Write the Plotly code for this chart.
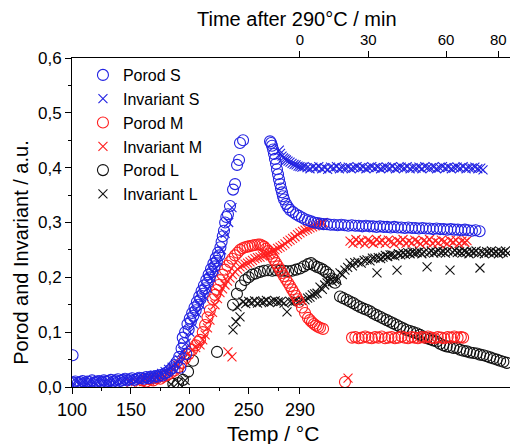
import plotly.graph_objects as go

# ---------------- data (x in bottom-axis units, y in a.u.) ----------------
porod_s = [
    (100.5, 0.058),
    (101, 0.008), (103, 0.010), (105, 0.007), (107, 0.009), (109, 0.011), (111, 0.008), (113, 0.010),
    (115, 0.009), (117, 0.012), (119, 0.008), (121, 0.010), (123, 0.011), (125, 0.009), (127, 0.012),
    (129, 0.010), (131, 0.011), (133, 0.013), (135, 0.010), (137, 0.012), (139, 0.014), (141, 0.011),
    (143, 0.013), (145, 0.015), (147, 0.012), (149, 0.014), (151, 0.016), (153, 0.013), (155, 0.015),
    (157, 0.017), (159, 0.016), (161, 0.015), (163, 0.018), (165, 0.016), (167, 0.019), (169, 0.017),
    (171, 0.020), (173, 0.019), (175, 0.022), (177, 0.021), (179, 0.025), (181, 0.027), (183, 0.031),
    (185, 0.034), (187, 0.040), (189, 0.046), (191, 0.055), (192, 0.035), (193, 0.070), (194, 0.090),
    (195, 0.080), (196, 0.100), (197, 0.060), (198, 0.115), (199, 0.105), (200, 0.125), (201, 0.120),
    (202, 0.135), (203, 0.130), (204, 0.145), (205, 0.140), (206, 0.155), (207, 0.150), (208, 0.165),
    (209, 0.160), (210, 0.175), (211, 0.170), (212, 0.185), (213, 0.180), (214, 0.195), (215, 0.190),
    (216, 0.205), (217, 0.200), (218, 0.215), (219, 0.210), (220, 0.225), (221, 0.220), (222, 0.235),
    (223, 0.230), (224, 0.245), (225, 0.240), (226, 0.255), (227, 0.265), (228, 0.275), (229, 0.285),
    (230, 0.300), (231, 0.310), (232.4, 0.315), (234.1, 0.330), (236.7, 0.360), (238.4, 0.370),
    (240.1, 0.405), (241.8, 0.414), (242.6, 0.445), (245.2, 0.450),
    (268.1, 0.448), (269.0, 0.445), (269.8, 0.440), (270.7, 0.433), (271.5, 0.425), (272.3, 0.416),
    (273.2, 0.407), (274.0, 0.397), (274.9, 0.388), (275.7, 0.379), (276.6, 0.370), (277.4, 0.362),
    (278.3, 0.355), (279.1, 0.348), (280.0, 0.342), (281.7, 0.334), (283.4, 0.328), (285.1, 0.323),
    (287.6, 0.319), (290.2, 0.315), (292.7, 0.312), (295.2, 0.309), (297.8, 0.306), (300.3, 0.304),
    (302.9, 0.302), (305.4, 0.300), (308.0, 0.299), (310.5, 0.298), (313.5, 0.297), (316.5, 0.297),
    (319.5, 0.296), (322.5, 0.296), (325.5, 0.295), (328.5, 0.296), (331.5, 0.295), (334.5, 0.294),
    (337.5, 0.295), (340.5, 0.294), (343.5, 0.294), (346.5, 0.293), (349.5, 0.294), (352.5, 0.293),
    (355.5, 0.293), (358.5, 0.292), (361.5, 0.293), (364.5, 0.292), (367.5, 0.292), (370.5, 0.291),
    (373.5, 0.292), (376.5, 0.291), (379.5, 0.291), (382.5, 0.290), (385.5, 0.291), (388.5, 0.290),
    (391.5, 0.290), (394.5, 0.289), (397.5, 0.290), (400.5, 0.289), (403.5, 0.289), (406.5, 0.288),
    (409.5, 0.289), (412.5, 0.288), (415.5, 0.288), (418.5, 0.287), (421.5, 0.288), (424.5, 0.287),
    (427.5, 0.287), (430.5, 0.286), (433.5, 0.287), (436.5, 0.286), (439.5, 0.285), (442.5, 0.286),
    (446.0, 0.284),
]

invariant_s = [
    (101, 0.006), (104, 0.009), (107, 0.007), (110, 0.010), (113, 0.008), (116, 0.011), (119, 0.009),
    (122, 0.010), (125, 0.012), (128, 0.009), (131, 0.011), (134, 0.012), (137, 0.010), (140, 0.013),
    (143, 0.012), (146, 0.014), (149, 0.013), (152, 0.015), (155, 0.014), (158, 0.016), (161, 0.017),
    (164, 0.019), (167, 0.018), (170, 0.021), (173, 0.022), (176, 0.025), (179, 0.028), (182, 0.032),
    (185, 0.036), (188, 0.042), (191, 0.050), (194, 0.065), (197, 0.080), (200, 0.100), (203, 0.115),
    (206, 0.135), (209, 0.150), (212, 0.165), (215, 0.180), (218, 0.200), (221, 0.215), (224, 0.230),
    (227, 0.250), (230, 0.280), (233, 0.300), (235.8, 0.327),
    (276.0, 0.432), (277.0, 0.426), (278.3, 0.421), (279.5, 0.418), (280.8, 0.416), (282.0, 0.414),
    (283.4, 0.412), (285.1, 0.410), (286.8, 0.408), (288.5, 0.406), (290.2, 0.405), (291.9, 0.403),
    (293.5, 0.402), (295.2, 0.401), (297.0, 0.402), (299.5, 0.400), (302.0, 0.398), (304.5, 0.401),
    (307.0, 0.399), (309.5, 0.402), (312.0, 0.398), (314.5, 0.400), (317.0, 0.397), (319.5, 0.401),
    (322.0, 0.399), (324.5, 0.402), (327.0, 0.398), (329.5, 0.400), (332.0, 0.399), (334.5, 0.401),
    (337.0, 0.398), (339.5, 0.400), (342.0, 0.402), (344.5, 0.399), (347.0, 0.401), (349.5, 0.398),
    (352.0, 0.400), (354.5, 0.402), (357.0, 0.399), (359.5, 0.401), (362.0, 0.398), (364.5, 0.400),
    (367.0, 0.401), (369.5, 0.399), (372.0, 0.402), (374.5, 0.398), (377.0, 0.400), (379.5, 0.401),
    (382.0, 0.399), (384.5, 0.402), (387.0, 0.398), (389.5, 0.400), (392.0, 0.399), (394.5, 0.401),
    (397.0, 0.398), (399.5, 0.402), (402.0, 0.400), (404.5, 0.399), (407.0, 0.401), (409.5, 0.398),
    (412.0, 0.400), (414.5, 0.402), (417.0, 0.399), (419.5, 0.401), (422.0, 0.398), (424.5, 0.400),
    (427.0, 0.401), (429.5, 0.399), (432.0, 0.402), (434.5, 0.398), (437.0, 0.400), (439.5, 0.399),
    (442.0, 0.401), (444.5, 0.398), (447.0, 0.399), (448.9, 0.396),
]

porod_m = [
    (160, 0.012), (163, 0.010), (166, 0.014), (169, 0.012), (172, 0.016), (175, 0.015), (178, 0.019),
    (181, 0.022), (184, 0.026), (187, 0.030), (190, 0.036), (193, 0.044), (196, 0.052), (199, 0.060),
    (202, 0.068), (205, 0.076), (207, 0.082), (208.7, 0.086), (211, 0.100), (213, 0.113), (215, 0.127),
    (217, 0.140), (219.7, 0.160), (221.5, 0.168), (223, 0.177), (224.5, 0.186), (225.6, 0.195),
    (227.8, 0.205), (229.9, 0.214), (232, 0.221), (234, 0.228), (236, 0.234), (238.4, 0.240),
    (240.5, 0.245), (242.6, 0.250), (244.8, 0.253), (246.9, 0.255), (249, 0.256), (251.1, 0.257),
    (253.2, 0.258), (255.3, 0.259), (257.9, 0.260), (259.6, 0.260), (261.3, 0.258), (263, 0.256),
    (264.7, 0.252), (266.4, 0.248), (268.1, 0.243), (269.8, 0.238), (271.5, 0.232), (273.2, 0.226),
    (274.9, 0.220), (276.6, 0.214), (278.3, 0.208), (280, 0.202), (281.7, 0.196), (283.4, 0.190),
    (285.1, 0.184), (286.8, 0.178), (288.5, 0.172), (290.2, 0.166), (291.5, 0.160), (292.7, 0.155),
    (295.2, 0.145), (297.8, 0.135), (300.3, 0.126), (302, 0.122), (303.7, 0.118), (305.4, 0.115),
    (307.1, 0.112), (308.8, 0.110), (310.5, 0.108), (313.1, 0.106),
    (331.7, 0.009),
    (337.7, 0.090), (340.5, 0.091), (343.3, 0.089), (346.1, 0.090), (348.9, 0.092), (351.7, 0.090),
    (354.5, 0.089), (357.3, 0.091), (360.1, 0.090), (362.9, 0.092), (365.7, 0.089), (368.5, 0.090),
    (371.3, 0.091), (374.1, 0.089), (376.9, 0.090), (379.7, 0.092), (382.5, 0.090), (385.3, 0.089),
    (388.1, 0.091), (390.9, 0.090), (393.7, 0.089), (396.5, 0.091), (399.3, 0.090), (402.1, 0.092),
    (404.9, 0.090), (407.7, 0.089), (410.5, 0.091), (413.3, 0.090), (416.1, 0.089), (418.9, 0.091),
    (421.7, 0.090), (424.5, 0.092), (427.3, 0.090), (430.1, 0.091), (432.0, 0.090),
]

invariant_m = [
    (150, 0.008), (154, 0.010), (158, 0.009), (162, 0.012), (166, 0.011), (170, 0.014), (174, 0.016),
    (178, 0.020), (182, 0.025), (186, 0.032), (190, 0.040), (194, 0.050), (198, 0.060), (202, 0.068),
    (205, 0.072), (208.7, 0.077), (211, 0.086), (213, 0.095), (215, 0.108), (217.1, 0.122),
    (219.3, 0.136), (221.4, 0.150), (223.5, 0.161), (225.6, 0.172), (227.8, 0.179), (229.9, 0.186),
    (232, 0.193), (234.1, 0.199), (236.2, 0.205), (238.4, 0.210), (240.5, 0.215), (242.6, 0.219),
    (244.8, 0.222), (246.9, 0.224), (249, 0.226), (251.1, 0.228), (253.2, 0.231), (255.3, 0.234),
    (257.4, 0.236), (259.6, 0.237), (261.7, 0.239), (263.8, 0.241), (266, 0.243), (268.1, 0.245),
    (270.2, 0.248), (272.3, 0.250), (274.5, 0.253), (276.6, 0.255), (278.7, 0.258), (280.8, 0.261),
    (283, 0.265), (285.1, 0.268), (287.2, 0.271), (289.3, 0.274), (291.4, 0.278), (293.5, 0.281),
    (295.7, 0.284), (297.8, 0.286), (299.9, 0.288), (302, 0.290), (304.2, 0.292), (306.3, 0.294),
    (308.4, 0.296), (310.5, 0.297), (312, 0.299), (313.1, 0.300),
    (232.4, 0.064), (235.8, 0.055),
    (334.3, 0.016),
    (336.0, 0.266), (338.5, 0.262), (341.0, 0.269), (343.5, 0.264), (346.0, 0.267), (348.5, 0.261),
    (351.0, 0.268), (353.5, 0.265), (356.0, 0.262), (358.5, 0.269), (361.0, 0.264), (363.5, 0.267),
    (366.0, 0.262), (368.5, 0.268), (371.0, 0.265), (373.5, 0.261), (376.0, 0.267), (378.5, 0.264),
    (381.0, 0.269), (383.5, 0.262), (386.0, 0.266), (388.5, 0.263), (391.0, 0.268), (393.5, 0.265),
    (396.0, 0.261), (398.5, 0.267), (401.0, 0.264), (403.5, 0.269), (406.0, 0.262), (408.5, 0.266),
    (411.0, 0.263), (413.5, 0.268), (416.0, 0.265), (418.5, 0.261), (421.0, 0.267), (423.5, 0.264),
    (426.0, 0.268), (428.5, 0.262), (431.0, 0.266), (433.5, 0.264), (435.3, 0.267),
]

porod_l = [
    (186, 0.006), (190, 0.007), (194.2, 0.013), (198.5, 0.028), (202.7, 0.048), (223.1, 0.064),
    (236.7, 0.150), (240.0, 0.170), (243.4, 0.185), (246.9, 0.195), (250.0, 0.200), (253.0, 0.205),
    (256.0, 0.207), (259.6, 0.210), (263.0, 0.212), (266.4, 0.213), (270.0, 0.212), (273.2, 0.213),
    (276.6, 0.212), (280.0, 0.212), (283.4, 0.211), (286.8, 0.212), (290.2, 0.214), (293.5, 0.216),
    (296.9, 0.220), (300.3, 0.224), (302.9, 0.226), (305.4, 0.222), (308.0, 0.219), (310.5, 0.217),
    (313.1, 0.214), (315.6, 0.210), (318.2, 0.205), (320.7, 0.198), (323.3, 0.190),
    (327.5, 0.165), (330.3, 0.162), (333.2, 0.159), (336.0, 0.156), (338.8, 0.153), (341.7, 0.149),
    (344.5, 0.146), (347.3, 0.143), (350.2, 0.141), (353.0, 0.138), (355.8, 0.134), (358.7, 0.131),
    (361.5, 0.128), (364.3, 0.125), (367.2, 0.122), (370.0, 0.119), (372.8, 0.116), (375.7, 0.113),
    (378.4, 0.110), (381.2, 0.107), (384.1, 0.104), (387.0, 0.102), (389.7, 0.100), (392.6, 0.098),
    (395.4, 0.095), (398.2, 0.092), (401.1, 0.089), (403.9, 0.087), (406.7, 0.085), (409.6, 0.083),
    (412.4, 0.079), (415.2, 0.076), (418.1, 0.074), (420.9, 0.073), (423.7, 0.071), (426.6, 0.071),
    (429.4, 0.068), (432.2, 0.066), (435.1, 0.065), (437.9, 0.063), (440.7, 0.062), (443.6, 0.061),
    (446.4, 0.059), (449.2, 0.058), (452.1, 0.056), (454.9, 0.054), (457.7, 0.052), (460.6, 0.050),
    (463.4, 0.048), (466.2, 0.046), (469.1, 0.044),
]

invariant_l = [
    (184, 0.005), (190, 0.008), (196, 0.012),
    (236.7, 0.104), (239.2, 0.119), (240.1, 0.146), (242.6, 0.128), (245.2, 0.155), (247.5, 0.152),
    (250.0, 0.156), (252.5, 0.154), (255.0, 0.157), (257.5, 0.153), (260.0, 0.156), (262.5, 0.155),
    (265.0, 0.158), (267.5, 0.154), (270.0, 0.156), (272.5, 0.157), (275.0, 0.155), (277.5, 0.156),
    (280.0, 0.153), (282.5, 0.137), (285.0, 0.156), (287.5, 0.155), (290.0, 0.157), (292.5, 0.156),
    (295.0, 0.158), (297.8, 0.159), (300.0, 0.162), (302.0, 0.164), (304.0, 0.168), (306.0, 0.170),
    (308.0, 0.171), (310.5, 0.182), (312.5, 0.178), (314.5, 0.186), (316.5, 0.190), (319.0, 0.199),
    (321.0, 0.192), (323.0, 0.196), (325.0, 0.195), (327.5, 0.208), (329.5, 0.205), (331.7, 0.213),
    (334.0, 0.218), (336.0, 0.226), (338.0, 0.221), (340.0, 0.227), (342.8, 0.228), (345.5, 0.226),
    (348.0, 0.231), (350.4, 0.232), (353.0, 0.230), (355.0, 0.235), (357.2, 0.235), (358.9, 0.208),
    (360.0, 0.236), (362.0, 0.234), (364.0, 0.237), (366.0, 0.240), (368.0, 0.238), (370.0, 0.241),
    (371.6, 0.241), (374.0, 0.239), (375.9, 0.213), (377.0, 0.243), (379.0, 0.241), (381.0, 0.244),
    (383.0, 0.242), (385.0, 0.245), (387.0, 0.243), (389.0, 0.246), (391.0, 0.244), (393.0, 0.245),
    (395.0, 0.247), (397.0, 0.243), (399.0, 0.246), (401.4, 0.219), (403.0, 0.245), (405.0, 0.248),
    (407.0, 0.244), (409.0, 0.246), (411.0, 0.249), (413.0, 0.245), (415.0, 0.247), (417.0, 0.244),
    (419.0, 0.248), (420.9, 0.213), (423.0, 0.246), (425.0, 0.249), (427.0, 0.245), (429.0, 0.247),
    (431.0, 0.244), (433.0, 0.248), (435.0, 0.246), (437.0, 0.243), (439.0, 0.247), (441.0, 0.245),
    (443.0, 0.248), (445.0, 0.244), (446.3, 0.217), (448.0, 0.246), (450.0, 0.243), (452.0, 0.247),
    (454.0, 0.245), (456.0, 0.248), (458.0, 0.244), (460.0, 0.246), (462.0, 0.243), (464.0, 0.247),
    (466.0, 0.245), (468.0, 0.248), (470.0, 0.244),
]

temp_tick_vals = [100, 150, 200, 250, 293.5]
temp_tick_text = ["100", "150", "200", "250", "290"]
temp_minor_vals = [125, 175, 225, 275]
time_tick_vals = [293.5, 351.5, 417.5, 461.9]
time_tick_text = ["0", "30", "60", "80"]
y_tick_vals = [0, 0.1, 0.2, 0.3, 0.4, 0.5, 0.6]
y_tick_text = ["0,0", "0,1", "0,2", "0,3", "0,4", "0,5", "0,6"]

BLUE = "#2222e2"
RED = "#ff1e1e"
BLACK = "#111111"
FONT = "Liberation Sans, Arial, sans-serif"

series = [
    # name, data, color, kind, legend rank (drawn L first, S last)
    ("Porod L", porod_l, BLACK, "circle", 5),
    ("Invariant L", invariant_l, BLACK, "x", 6),
    ("Porod M", porod_m, RED, "circle", 3),
    ("Invariant M", invariant_m, RED, "x", 4),
    ("Porod S", porod_s, BLUE, "circle", 1),
    ("Invariant S", invariant_s, BLUE, "x", 2),
]

fig = go.Figure()
for name, data, color, kind, rank in series:
    xs = [p[0] for p in data]
    ys = [p[1] for p in data]
    if kind == "circle":
        marker = dict(symbol="circle-open", size=11, color=color, line=dict(width=1.1, color=color))
    else:
        marker = dict(symbol="x-thin-open", size=9, color=color, line=dict(width=1.1, color=color))
    fig.add_trace(go.Scatter(x=xs, y=ys, mode="markers", name=name, marker=marker,
                             legendrank=rank, cliponaxis=True))

X_RANGE = [100, 471.8]

fig.update_layout(
    width=510, height=444,
    margin=dict(l=72, r=0, t=58, b=57),
    paper_bgcolor="white", plot_bgcolor="white",
    font=dict(family=FONT, size=16, color="black"),
    showlegend=True,
    legend=dict(x=0.025, y=1.0, xanchor="left", yanchor="top", bgcolor="rgba(0,0,0,0)",
                font=dict(size=16), itemwidth=30, tracegroupgap=0),
    xaxis=dict(range=X_RANGE, tickmode="array", tickvals=temp_tick_vals, ticktext=temp_tick_text,
               ticks="outside", ticklen=6, tickwidth=1, tickcolor="black",
               showline=True, linecolor="black", linewidth=1, showgrid=False, zeroline=False,
               minor=dict(tickmode="array", tickvals=temp_minor_vals, ticks="outside", ticklen=3,
                          tickcolor="black", showgrid=False),
               tickfont=dict(size=18)),
    xaxis2=dict(range=X_RANGE, overlaying="x", side="top", anchor="y", tickmode="array",
                tickvals=time_tick_vals, ticktext=time_tick_text, ticks="outside", ticklen=6,
                tickcolor="black", showline=True, linecolor="black", linewidth=1,
                showgrid=False, zeroline=False, tickfont=dict(size=15)),
    yaxis=dict(range=[0, 0.6], tickmode="array", tickvals=y_tick_vals, ticktext=y_tick_text,
               ticks="outside", ticklen=6, tickcolor="black", showline=True, linecolor="black",
               linewidth=1, showgrid=False, zeroline=False,
               minor=dict(dtick=0.05, ticks="outside", ticklen=3, tickcolor="black", showgrid=False),
               tickfont=dict(size=17)),
    annotations=[
        dict(text="Temp / °C", xref="paper", yref="paper", x=0.459, y=-0.14,
             xanchor="center", yanchor="middle", showarrow=False, font=dict(size=21)),
        dict(text="Time after 290°C / min", xref="paper", yref="paper", x=0.5126, y=1.118,
             xanchor="center", yanchor="middle", showarrow=False, font=dict(size=20)),
        dict(text="Porod and Invariant / a.u.", xref="paper", yref="paper", x=-0.117, y=0.41,
             xanchor="center", yanchor="middle", showarrow=False, textangle=-90,
             font=dict(size=20)),
    ],
)
# empty helper trace so the top (time) axis is drawn
fig.add_trace(go.Scatter(x=[None], y=[None], xaxis="x2", yaxis="y", showlegend=False,
                         hoverinfo="skip"))

fig.write_html("out.html")
